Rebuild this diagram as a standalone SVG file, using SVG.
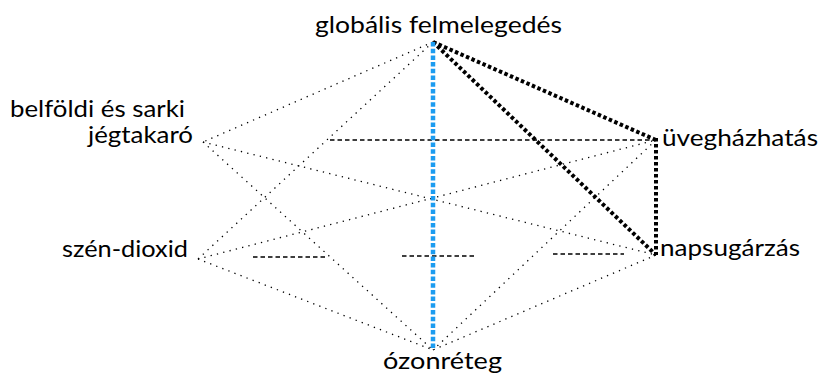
<svg xmlns="http://www.w3.org/2000/svg" width="821" height="378" viewBox="0 0 821 378">
<style>
.lbl{font-family:Lato,"Liberation Sans",sans-serif;font-size:23.5px;fill:#000}
.thin{stroke:#000;stroke-width:1.3;stroke-dasharray:1.3 5.2;fill:none}
.dash{stroke:#000;stroke-width:1.5;stroke-dasharray:4.5 3;fill:none}
.thick{stroke:#000;stroke-width:4;stroke-dasharray:3.5 2.5;fill:none}
.blue{stroke:#1c9cf0;stroke-width:4.5;stroke-dasharray:4.5 2.2;fill:none}
</style>
<rect width="821" height="378" fill="#fff"/>
<g id="connectors">
<line class="thin" x1="433" y1="42" x2="203" y2="142"/>
<line class="thin" x1="433" y1="42" x2="198" y2="259"/>
<line class="thin" x1="203" y1="142" x2="656" y2="255"/>
<line class="thin" x1="203" y1="142" x2="433" y2="350"/>
<line class="thin" x1="198" y1="259" x2="656" y2="140"/>
<line class="thin" x1="198" y1="259" x2="433" y2="350"/>
<line class="thin" x1="656" y1="140" x2="433" y2="350"/>
<line class="thin" x1="656" y1="255" x2="433" y2="350"/>
<path class="dash" d="M330,140 L650,140"/>
<path class="dash" d="M253,257 L328,257 M402,256 L477,256 M553,254 L624,254"/>
<line class="thick" x1="433" y1="42" x2="656" y2="140"/>
<line class="thick" x1="433" y1="42" x2="656" y2="255"/>
<line class="thick" x1="656" y1="138" x2="656" y2="255"/>
<line class="blue" x1="433" y1="42" x2="433" y2="350"/>
</g>
<g id="node-global"><text class="lbl" x="315" y="33" textLength="247" lengthAdjust="spacingAndGlyphs">globális felmelegedés</text></g>
<g id="node-jeg"><text class="lbl" x="10" y="117" textLength="175" lengthAdjust="spacingAndGlyphs">belföldi és sarki</text><text class="lbl" x="88" y="143" textLength="105" lengthAdjust="spacingAndGlyphs">jégtakaró</text></g>
<g id="node-szen"><text class="lbl" x="62" y="257" textLength="126" lengthAdjust="spacingAndGlyphs">szén-dioxid</text></g>
<g id="node-uveg"><text class="lbl" x="662" y="146" textLength="156" lengthAdjust="spacingAndGlyphs">üvegházhatás</text></g>
<g id="node-nap"><text class="lbl" x="660" y="256" textLength="140" lengthAdjust="spacingAndGlyphs">napsugárzás</text></g>
<g id="node-ozon"><text class="lbl" x="383" y="369" textLength="119" lengthAdjust="spacingAndGlyphs">ózonréteg</text></g>
</svg>
